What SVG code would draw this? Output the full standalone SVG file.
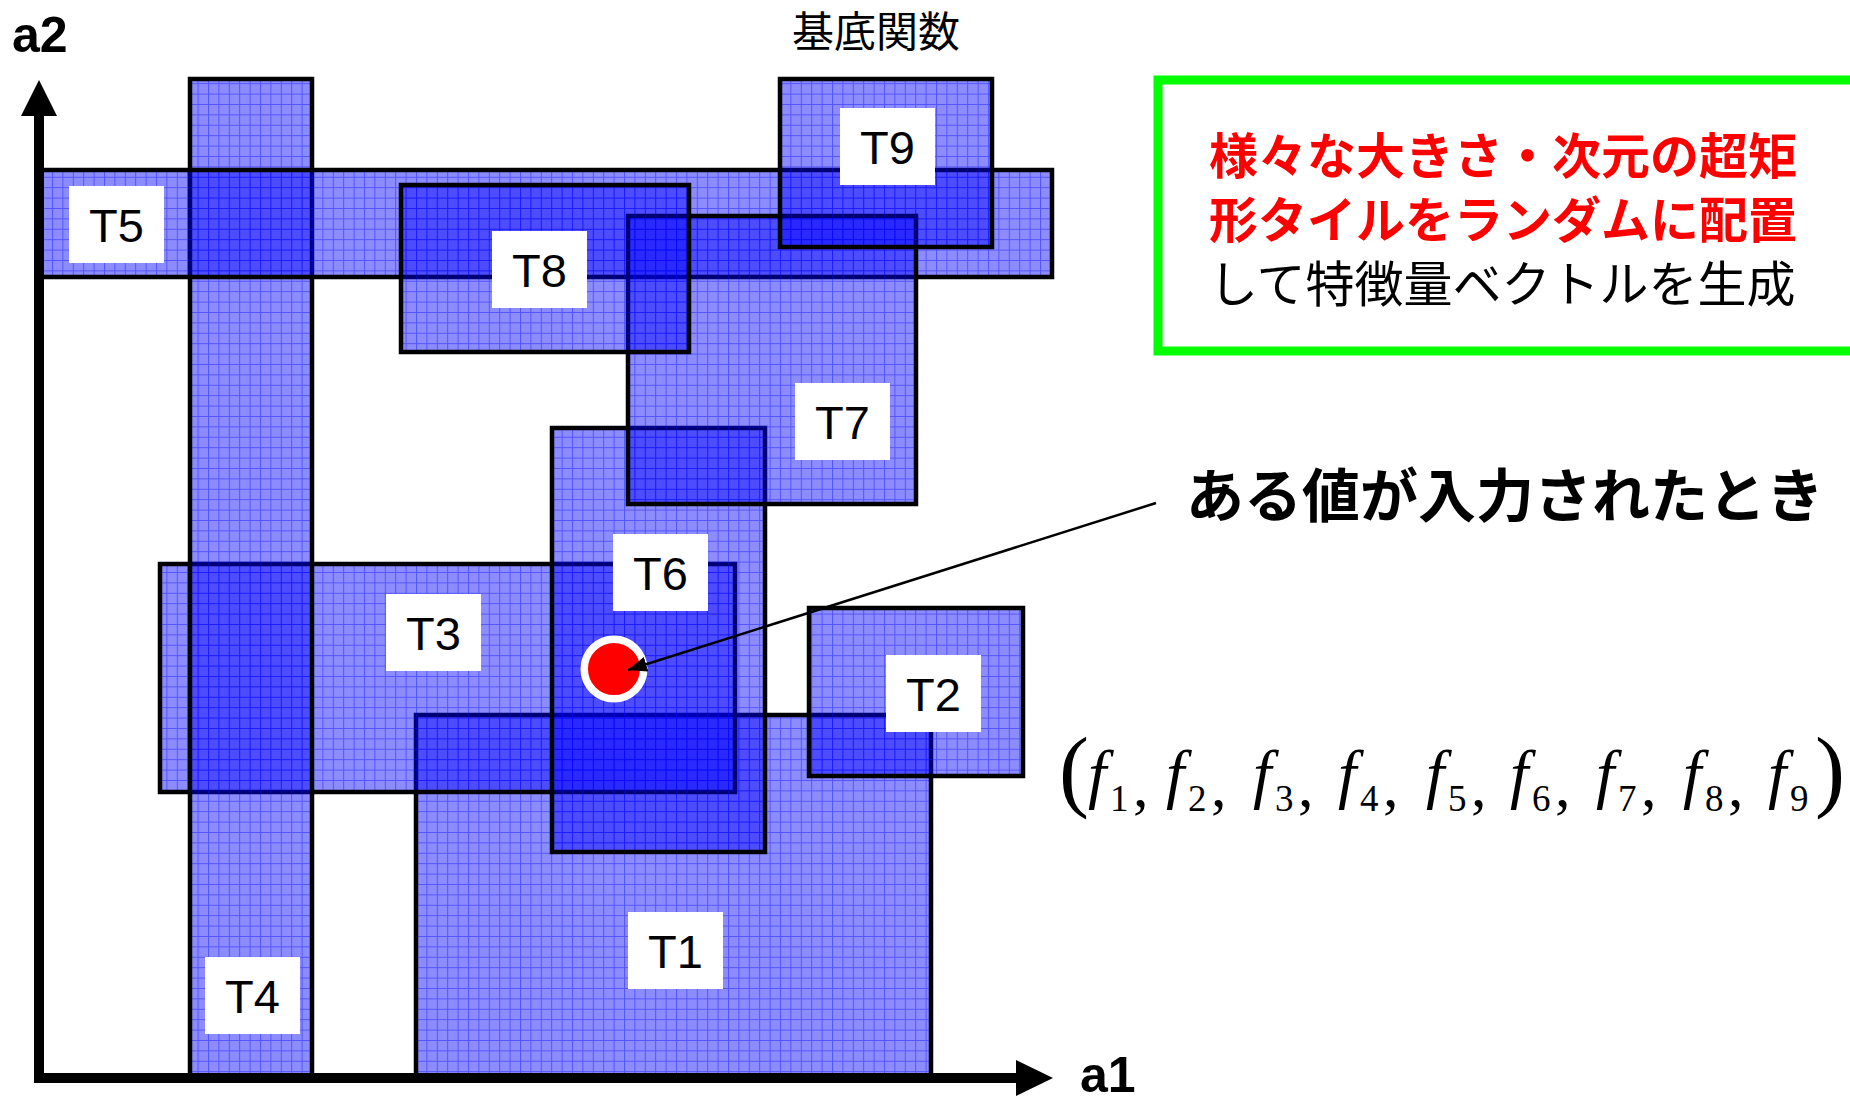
<svg xmlns="http://www.w3.org/2000/svg" width="1850" height="1096" viewBox="0 0 1850 1096">
  <defs>
    <pattern id="grid" patternUnits="userSpaceOnUse" width="10.4" height="10.4">
      <rect width="10.4" height="10.4" fill="#0000FF" fill-opacity="0.45"/>
      <path d="M0 0.5H10.4M0.5 1V10.4" stroke="#0000FF" stroke-opacity="0.4" stroke-width="1" fill="none"/>
    </pattern>
    <marker id="arrowhead" markerUnits="userSpaceOnUse" markerWidth="20" markerHeight="16" refX="19" refY="7.5" orient="auto">
      <path d="M0,0 L19,7.5 L0,15 z" fill="#000"/>
    </marker>
    <style>
      .tile { fill: url(#grid); stroke: #000; stroke-width: 4.5; }
      .lblbox { fill: #fff; }
      .lbl { font-family: "Liberation Sans", Arial, sans-serif; font-size: 47px; fill: #000; text-anchor: middle; }
      .axis { stroke: #000; stroke-width: 10; fill: none; }
      .axlbl { font-family: "Liberation Sans", Arial, sans-serif; font-size: 50px; font-weight: bold; fill: #000; }
      .jp { font-family: "Noto Sans CJK JP", "Noto Sans CJK SC", sans-serif; }
      .f { font-family: "Liberation Serif", "Times New Roman", serif; font-style: italic; font-size: 66px; fill: #000; }
      .sub { font-family: "Liberation Serif", "Times New Roman", serif; font-size: 37px; fill: #000; }
      .cm { font-family: "Liberation Serif", "Times New Roman", serif; font-size: 62px; fill: #000; }
      .par { font-family: "Liberation Serif", "Times New Roman", serif; font-size: 90px; fill: #000; }
    </style>
  </defs>
  <rect width="1850" height="1096" fill="#fff"/>

  <g id="tiles">
    <g id="T1"><rect class="tile" x="416" y="715" width="515" height="362"/></g>
    <g id="T2"><rect class="tile" x="809" y="608" width="214" height="168"/></g>
    <g id="T3"><rect class="tile" x="160" y="564" width="575" height="228"/></g>
    <g id="T4"><rect class="tile" x="190" y="79" width="122" height="998"/></g>
    <g id="T5"><rect class="tile" x="40" y="170" width="1012" height="107"/></g>
    <g id="T6"><rect class="tile" x="552" y="428" width="213" height="424"/></g>
    <g id="T7"><rect class="tile" x="628" y="216" width="288" height="288"/></g>
    <g id="T8"><rect class="tile" x="401" y="185" width="288" height="167"/></g>
    <g id="T9"><rect class="tile" x="780" y="79" width="212" height="168"/></g>
  </g>

  <g id="tile-labels">
    <g id="T1-label"><rect class="lblbox" x="628" y="912" width="95" height="77"/><text class="lbl" x="675.5" y="968">T1</text></g>
    <g id="T2-label"><rect class="lblbox" x="886" y="655" width="95" height="77"/><text class="lbl" x="933.5" y="711">T2</text></g>
    <g id="T3-label"><rect class="lblbox" x="386" y="594" width="95" height="77"/><text class="lbl" x="433.5" y="650">T3</text></g>
    <g id="T4-label"><rect class="lblbox" x="205" y="957" width="95" height="77"/><text class="lbl" x="252.5" y="1013">T4</text></g>
    <g id="T5-label"><rect class="lblbox" x="69" y="186" width="95" height="77"/><text class="lbl" x="116.5" y="242">T5</text></g>
    <g id="T6-label"><rect class="lblbox" x="613" y="534" width="95" height="77"/><text class="lbl" x="660.5" y="590">T6</text></g>
    <g id="T7-label"><rect class="lblbox" x="795" y="383" width="95" height="77"/><text class="lbl" x="842.5" y="439">T7</text></g>
    <g id="T8-label"><rect class="lblbox" x="492" y="231" width="95" height="77"/><text class="lbl" x="539.5" y="287">T8</text></g>
    <g id="T9-label"><rect class="lblbox" x="840" y="108" width="95" height="77"/><text class="lbl" x="887.5" y="164">T9</text></g>
  </g>

  <g id="axes">
    <line class="axis" x1="39" y1="1083" x2="39" y2="110"/>
    <polygon points="39,80 21,116 57,116" fill="#000"/>
    <line class="axis" x1="34" y1="1078" x2="1020" y2="1078"/>
    <polygon points="1053,1078 1016,1060 1016,1096" fill="#000"/>
    <text class="axlbl" x="12" y="52">a2</text>
    <text class="axlbl" x="1080" y="1092">a1</text>
  </g>

  <g id="input-point">
    <circle cx="614" cy="669" r="29.75" fill="#FF0000" stroke="#fff" stroke-width="7.5"/>
  </g>

  <g id="connectors">
    <line x1="1156" y1="503" x2="628" y2="670" stroke="#000" stroke-width="2.5" marker-end="url(#arrowhead)"/>
  </g>

  <g id="title">
    <text class="jp" x="792" y="47" font-size="42" fill="#000">基底関数</text>
  </g>

  <g id="note">
    <rect x="1158" y="80" width="720" height="271" fill="#fff" stroke="#00FF00" stroke-width="9"/>
    <text class="jp" x="1209" y="174" font-size="49" font-weight="bold" fill="#FF0000">様々な大きさ・次元の超矩</text>
    <text class="jp" x="1209" y="238" font-size="49" font-weight="bold" fill="#FF0000">形タイルをランダムに配置</text>
    <text class="jp" x="1209" y="302" font-size="49" fill="#000">して特徴量ベクトルを生成</text>
  </g>

  <g id="input-label">
    <text class="jp" x="1186" y="517" font-size="58" font-weight="bold" fill="#000">ある値が入力されたとき</text>
  </g>

  <g id="feature-vector">
    <text class="par" x="1059" y="800">(</text>
    <text class="f" x="1088" y="796">f</text><text class="sub" x="1110" y="811">1</text><text class="cm" x="1133" y="806">,</text>
    <text class="f" x="1166" y="796">f</text><text class="sub" x="1188" y="811">2</text><text class="cm" x="1211" y="806">,</text>
    <text class="f" x="1253" y="796">f</text><text class="sub" x="1275" y="811">3</text><text class="cm" x="1298" y="806">,</text>
    <text class="f" x="1338" y="796">f</text><text class="sub" x="1360" y="811">4</text><text class="cm" x="1383" y="806">,</text>
    <text class="f" x="1426" y="796">f</text><text class="sub" x="1448" y="811">5</text><text class="cm" x="1471" y="806">,</text>
    <text class="f" x="1510" y="796">f</text><text class="sub" x="1532" y="811">6</text><text class="cm" x="1555" y="806">,</text>
    <text class="f" x="1596" y="796">f</text><text class="sub" x="1618" y="811">7</text><text class="cm" x="1641" y="806">,</text>
    <text class="f" x="1683" y="796">f</text><text class="sub" x="1705" y="811">8</text><text class="cm" x="1728" y="806">,</text>
    <text class="f" x="1768" y="796">f</text><text class="sub" x="1790" y="811">9</text>
    <text class="par" x="1815" y="800">)</text>
  </g>
</svg>
